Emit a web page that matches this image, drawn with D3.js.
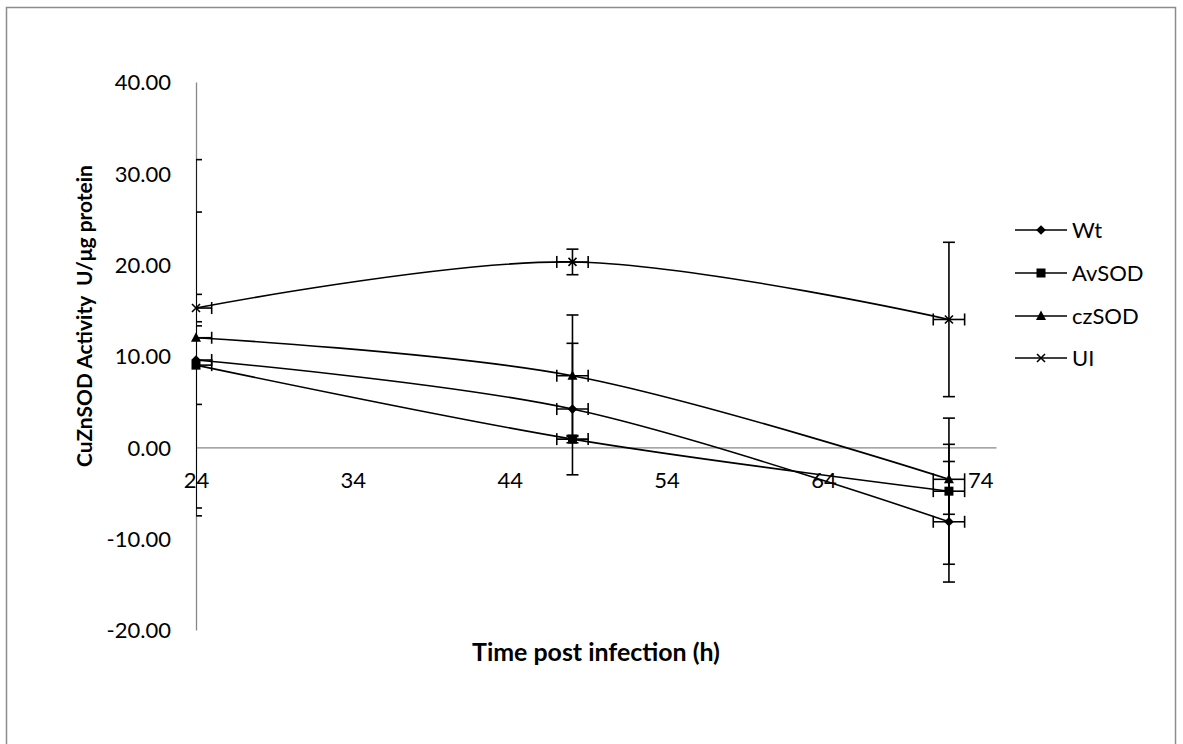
<!DOCTYPE html>
<html>
<head>
<meta charset="utf-8">
<script src="https://cdn.jsdelivr.net/npm/d3@7"></script>
<style>
  html, body { margin: 0; padding: 0; background: #fff; }
  svg { display: block; }
  text { font-family: Lato, "Open Sans", sans-serif; fill: #000; }
</style>
</head>
<body>
<svg id="chart" width="1183" height="744"></svg>
<script>
// Sampling times (h)
const hours = [24, 48, 72];

// CuZnSOD activity (U/µg protein) per strain, with standard deviations
const wtValues = [9.56, 4.19, -8.15];
const wtErrors = [16.2, 7.2, 6.6];
const avsodValues = [9.0, 0.9, -4.8];
const avsodErrors = [4.3, 0.4, 8.0];
const czsodValues = [12.0, 7.84, -3.5];
const czsodErrors = [19.5, 6.65, 3.83];
const uiValues = [15.25, 20.3, 14.0];
const uiErrors = [1.5, 1.4, 8.45];

// Horizontal error (h), same for every point
const timeError = 1;

const seriesNames = ["Wt", "AvSOD", "czSOD", "UI"];
const seriesMarkers = ["diamond", "square", "triangle", "cross"];

const xTicks = [24, 34, 44, 54, 64, 74];
const yTicks = [-20, -10, 0, 10, 20, 30, 40];

const series = [
  { name: seriesNames[0], marker: seriesMarkers[0], values: wtValues, errors: wtErrors },
  { name: seriesNames[1], marker: seriesMarkers[1], values: avsodValues, errors: avsodErrors },
  { name: seriesNames[2], marker: seriesMarkers[2], values: czsodValues, errors: czsodErrors },
  { name: seriesNames[3], marker: seriesMarkers[3], values: uiValues, errors: uiErrors }
];

const svg = d3.select("#chart");

// Scale a text's font size so that it spans the given width
function fitWidth(sel, width) {
  const node = sel.node();
  const base = parseFloat(sel.style("font-size"));
  const w = node.getComputedTextLength();
  sel.style("font-size", (base * width / w).toFixed(2) + "px");
  return sel;
}

// Outer chart frame
svg.append("rect")
  .attr("x", 6.5).attr("y", 7.5)
  .attr("width", 1169).attr("height", 760)
  .attr("fill", "none").attr("stroke", "#8c8c8c").attr("stroke-width", 1.5);

const plot = { left: 196, right: 996, top: 82, bottom: 630 };

const x = d3.scaleLinear().domain([24, 75]).range([plot.left, plot.right]);
const y = d3.scaleLinear().domain([-20, 40]).range([plot.bottom, plot.top]);

svg.append("defs").append("clipPath").attr("id", "plotClip")
  .append("rect")
  .attr("x", plot.left).attr("y", plot.top)
  .attr("width", plot.right - plot.left).attr("height", plot.bottom - plot.top);

// Y axis (line + labels, no ticks)
const yAxis = d3.axisLeft(y).tickValues(yTicks).tickSize(0).tickPadding(25)
  .tickFormat(d3.format(".2f"));
const gy = svg.append("g").attr("transform", `translate(${plot.left},0)`).call(yAxis);
gy.select(".domain").attr("stroke", "#888").attr("stroke-width", 1.3);
gy.selectAll("text").style("font-size", "22px").style("font-family", "Lato").attr("dy", "0.35em")
  .text(d => d3.format(".2f")(d).replace("−", "-"));

// X axis drawn along y = 0
const xAxis = d3.axisBottom(x).tickValues(xTicks).tickSize(0).tickPadding(25)
  .tickFormat(d3.format("d"));
const gx = svg.append("g").attr("transform", `translate(0,${y(0)})`).call(xAxis);
gx.select(".domain").attr("stroke", "#888").attr("stroke-width", 1.3);
gx.selectAll("text").style("font-size", "22px").style("font-family", "Lato");

// Axis titles
const xTitle = svg.append("text")
  .attr("x", (plot.left + plot.right) / 2).attr("y", 661)
  .attr("text-anchor", "middle")
  .style("font-size", "20px").style("font-weight", "bold")
  .text("Time post infection (h)");
fitWidth(xTitle, 248);

const yTitle = svg.append("text")
  .attr("transform", `translate(92,${316}) rotate(-90)`)
  .attr("text-anchor", "middle")
  .style("font-size", "20px").style("font-weight", "bold")
  .attr("xml:space", "preserve")
  .text("CuZnSOD Activity  U/μg protein");
fitWidth(yTitle, 302);

// Smoothed series lines
const line = d3.line()
  .x(d => x(d.t)).y(d => y(d.v))
  .curve(d3.curveCardinal.tension(0));

const pointsOf = s => hours.map((t, i) => ({ t, v: s.values[i], e: s.errors[i] }));

const lines = svg.append("g");
series.forEach(s => {
  lines.append("path")
    .datum(pointsOf(s))
    .attr("d", line)
    .attr("fill", "none").attr("stroke", "#000").attr("stroke-width", 1.6);
});

// Error bars, clipped to the plot area
const errG = svg.append("g").attr("clip-path", "url(#plotClip)")
  .attr("stroke", "#000").attr("stroke-width", 1.6);
const cap = 6;
series.forEach(s => {
  pointsOf(s).forEach(p => {
    const cx = x(p.t), cy = y(p.v);
    const y1 = y(p.v + p.e), y2 = y(p.v - p.e);
    errG.append("line").attr("x1", cx).attr("x2", cx).attr("y1", y1).attr("y2", y2);
    errG.append("line").attr("x1", cx - cap).attr("x2", cx + cap).attr("y1", y1).attr("y2", y1);
    errG.append("line").attr("x1", cx - cap).attr("x2", cx + cap).attr("y1", y2).attr("y2", y2);
    const xa = x(p.t - timeError), xb = x(p.t + timeError);
    errG.append("line").attr("x1", xa).attr("x2", xb).attr("y1", cy).attr("y2", cy);
    errG.append("line").attr("x1", xa).attr("x2", xa).attr("y1", cy - cap).attr("y2", cy + cap);
    errG.append("line").attr("x1", xb).attr("x2", xb).attr("y1", cy - cap).attr("y2", cy + cap);
  });
});

// Marker drawing
function drawMarker(g, type, cx, cy) {
  if (type === "diamond") {
    g.append("path").attr("d", d3.symbol(d3.symbolDiamond2, 60)())
      .attr("transform", `translate(${cx},${cy})`).attr("fill", "#000");
  } else if (type === "square") {
    g.append("rect").attr("x", cx - 4.5).attr("y", cy - 4.5)
      .attr("width", 9).attr("height", 9).attr("fill", "#000");
  } else if (type === "triangle") {
    g.append("path").attr("d", `M${cx},${cy - 5.5}L${cx + 5},${cy + 4}L${cx - 5},${cy + 4}Z`)
      .attr("fill", "#000");
  } else {
    g.append("path").attr("d", `M${cx - 4},${cy - 4}L${cx + 4},${cy + 4}M${cx - 4},${cy + 4}L${cx + 4},${cy - 4}`)
      .attr("stroke", "#000").attr("stroke-width", 1.6);
  }
}

const markG = svg.append("g");
series.forEach(s => {
  pointsOf(s).forEach(p => drawMarker(markG, s.marker, x(p.t), y(p.v)));
});

// Legend
const legendRows = [230, 273, 316, 358];
const legend = svg.append("g");
series.forEach((s, i) => {
  const ly = legendRows[i];
  legend.append("line").attr("x1", 1015).attr("x2", 1067).attr("y1", ly).attr("y2", ly)
    .attr("stroke", "#000").attr("stroke-width", 1.6);
  drawMarker(legend, s.marker, 1041, ly);
  legend.append("text").attr("x", 1072).attr("y", ly).attr("dy", "0.36em")
    .style("font-size", "22px").text(s.name);
});
</script>
</body>
</html>
